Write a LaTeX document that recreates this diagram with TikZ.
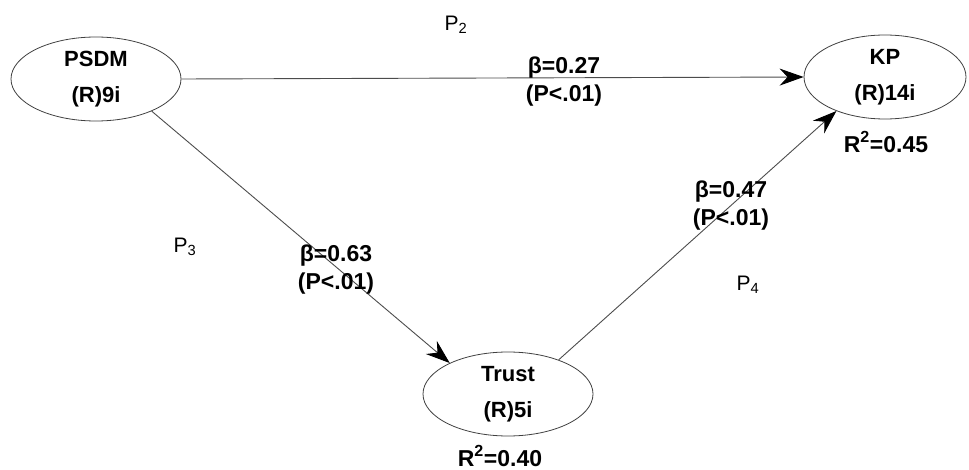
\documentclass[tikz,border=0pt]{standalone}
\usepackage{fontspec}
\setmainfont{Liberation Sans}
\usetikzlibrary{arrows.meta,shapes.geometric}
\begin{document}
\begin{tikzpicture}[x=1pt,y=-1pt,
  construct/.style={draw=black!75,line width=0.8pt,ellipse,minimum width=#1,minimum height=84pt,inner sep=0pt,align=center,font=\bfseries\fontsize{22}{36}\selectfont},
  construct/.default=170pt,
  path/.style={draw=black!70,line width=0.9pt,-{Stealth[length=24pt,width=17pt,inset=8pt,black]}},
  coef/.style={align=center,font=\bfseries\fontsize{23}{28}\selectfont},
  hyp/.style={font=\fontsize{21}{24}\selectfont},
  rsq/.style={font=\bfseries\fontsize{23}{26}\selectfont}]
\useasboundingbox (0,0) rectangle (969,470);
\node[construct=170pt] (psdm) at (96,79) {PSDM\\(R)9i};
\node[construct=162pt] (kp) at (885,77) {KP\\(R)14i};
\node[construct=170pt] (trust) at (508,394) {Trust\\(R)5i};
\draw[path] (psdm.east) -- (kp.west);
\draw[path] (psdm.-30) -- (trust.152);
\draw[path] (trust.34) -- (kp.215);
\node[coef] (l1) at (564,82) {β=0.27\\(P<.01)};
\node[coef] (l2) at (336,270) {β=0.63\\(P<.01)};
\node[coef] (l3) at (731,206) {β=0.47\\(P<.01)};
\node[hyp] (p2) at (456,25) {P\textsubscript{2}};
\node[hyp] (p3) at (185,247) {P\textsubscript{3}};
\node[hyp] (p4) at (748,285) {P\textsubscript{4}};
\node[rsq] (r1) at (886,142) {R\textsuperscript{2}=0.45};
\node[rsq] (r2) at (500,456) {R\textsuperscript{2}=0.40};
\end{tikzpicture}
\end{document}
